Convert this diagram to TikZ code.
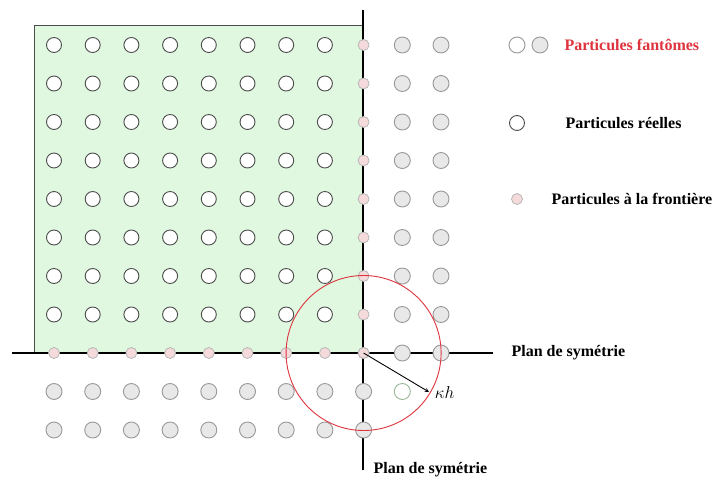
\documentclass[tikz,border=0pt]{standalone}
\usepackage{fontspec}
\setmainfont{Liberation Serif}
\usepackage{amsmath}
\usetikzlibrary{arrows,positioning}

\definecolor{zone}{RGB}{224,248,224}
\definecolor{rouge}{RGB}{222,52,62}
\definecolor{rose}{RGB}{244,218,218}

\begin{document}
\begin{tikzpicture}[x=1pt,y=-1pt,
  reel/.style={circle, draw=black!70, fill=white, line width=0.9pt,
               minimum size=15pt, inner sep=0pt},
  fant/.style={circle, draw=black!40, fill=black!9, line width=0.9pt,
               minimum size=16pt, inner sep=0pt},
  front/.style={circle, draw=black!30, fill=rose, line width=0.7pt,
                minimum size=11pt, inner sep=0pt},
  plan/.style={line width=2.5pt},
  lbl/.style={font=\bfseries\fontsize{16}{18}\selectfont, anchor=west},
  arr/.style={->, >=stealth, line width=0.9pt}
]
\useasboundingbox (0,0) rectangle (713,483);

\fill[zone] (34,25) rectangle (363,353);
\draw[black!70] (34,353) -- (34,25) -- (363,25);

\coordinate (h1) at (12,353);
\coordinate (h2) at (493,353);
\coordinate (v1) at (363,10);
\coordinate (v2) at (363,470);
\draw[plan] (h1) -- (h2);
\draw[plan] (v1) -- (v2);

\foreach \i in {0,...,7}
  \foreach \j in {0,...,7}
    \node[reel] (p-\i-\j) at (54+38.7*\i, 45+38.5*\j) {};
\foreach \i in {9,10}
  \foreach \j in {0,...,8}
    \node[fant] (p-\i-\j) at (54+38.7*\i, 45+38.5*\j) {};
\foreach \i in {0,...,8}
  \foreach \j in {9,10}
    \node[fant] (p-\i-\j) at (54+38.7*\i, 45+38.5*\j) {};
\node[fant, fill=white, draw=green!30!black!40] (p-9-9) at (54+38.7*9, 45+38.5*9) {};
\foreach \k in {0,...,8} {
  \node[front] (b-8-\k) at (54+38.7*8, 45+38.5*\k) {};
  \node[front] (b-\k-8) at (54+38.7*\k, 45+38.5*8) {};
}

\coordinate (o) at (b-8-8.center);
\draw[rouge, line width=0.9pt] (o) circle (77.5pt);
\coordinate (kh) at (429,392);
\draw[arr] (o) -- (kh) node[right=2pt, font=\fontsize{16}{18}\selectfont] (lkh) {$\kappa h$};

\node[lbl] (ph) at (508,353) {Plan de symétrie};
\node[lbl] (pv) at (370,470) {Plan de symétrie};

\node[fant, fill=white] (lf1) at (517,45) {};
\node[fant] (lf2) at (540,45) {};
\node[lbl, text=rouge] (tf) at (561,45) {Particules fantômes};
\node[lbl] (tr) at (562,123) {Particules réelles};
\node[reel] (lr) at (517,123) {};
\node[front] (lb) at (517,199) {};
\node[lbl] (tb) at (548,199) {Particules à la frontière};
\end{tikzpicture}
\end{document}
